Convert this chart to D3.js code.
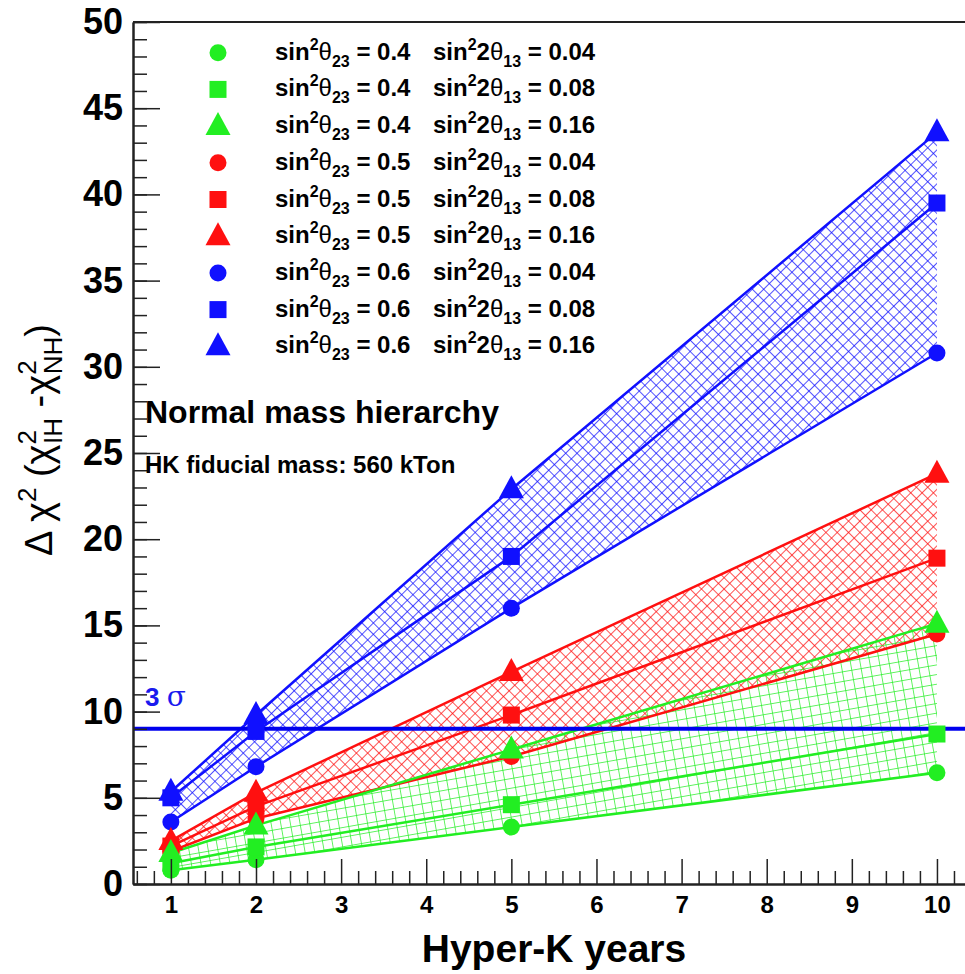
<!DOCTYPE html>
<html>
<head>
<meta charset="utf-8">
<script src="https://cdn.jsdelivr.net/npm/d3@7"></script>
<style>
  body { margin: 0; background: #fff; }
  svg { display: block; font-family: "Liberation Sans", Arial, sans-serif; }
</style>
</head>
<body>
<svg id="chart" width="965" height="974"></svg>
<script>
// années d'exposition
const years = [1, 2, 5, 10];

// sin^2 theta23 par couleur, sin^2 2theta13 par symbole
const th23 = ["0.4", "0.5", "0.6"];
const th13 = ["0.04", "0.08", "0.16"];
const colorsBand = ["#22ee22", "#ff1010", "#1010ff"];
const shapes = ["circle", "square", "triangle"];

// delta chi2 (cercle, carré, triangle)
const green04 = [0.8, 1.4, 3.3, 6.45];
const green08 = [1.2, 2.15, 4.6, 8.7];
const green16 = [1.8, 3.4, 7.8, 15.1];
const red04 = [1.9, 3.8, 7.4, 14.5];
const red08 = [2.2, 4.5, 9.8, 18.9];
const red16 = [2.5, 5.3, 12.3, 23.8];
const blue04 = [3.6, 6.8, 16.0, 30.8];
const blue08 = [5.0, 8.85, 19.0, 39.5];
const blue16 = [5.35, 9.8, 22.9, 43.6];

const series = [
  [green04, green08, green16],
  [red04, red08, red16],
  [blue04, blue08, blue16]
];

const threeSigma = 9;
const xTicks = [1, 2, 3, 4, 5, 6, 7, 8, 9, 10];
const yTicks = [0, 5, 10, 15, 20, 25, 30, 35, 40, 45, 50];

const svg = d3.select("#chart");

const x = d3.scaleLinear().domain([0.555, 10.4]).range([133, 971]);
const y = d3.scaleLinear().domain([0, 50]).range([884, 22]);

// motifs de hachures
const defs = svg.append("defs");
function hatch(id, color, size, angle) {
  const p = defs.append("pattern")
    .attr("id", id)
    .attr("patternUnits", "userSpaceOnUse")
    .attr("width", size).attr("height", size)
    .attr("patternTransform", `rotate(${angle})`);
  p.append("path")
    .attr("d", `M0,0.5 H${size} M0.5,0 V${size}`)
    .attr("stroke", color)
    .attr("stroke-width", 0.9)
    .attr("stroke-opacity", 0.8)
    .attr("fill", "none");
}
hatch("hG", colorsBand[0], 9.5, -10);
hatch("hR", colorsBand[1], 8, 45);
hatch("hB", colorsBand[2], 8, 45);
const hatchIds = ["hG", "hR", "hB"];

const plot = svg.append("g");

// bandes hachurées entre cercle et triangle
const area = d3.area()
  .x((d, i) => x(years[i]))
  .y0(d => y(d[0]))
  .y1(d => y(d[1]));

[2, 1, 0].forEach(g => {
  const pts = years.map((yr, i) => [series[g][0][i], series[g][2][i]]);
  plot.append("path")
    .datum(pts)
    .attr("d", area)
    .attr("fill", `url(#${hatchIds[g]})`);
});

// lignes
const line = d3.line()
  .x((d, i) => x(years[i]))
  .y(d => y(d));

[2, 1, 0].forEach(g => {
  series[g].forEach(s => {
    plot.append("path")
      .datum(s)
      .attr("d", line)
      .attr("fill", "none")
      .attr("stroke", colorsBand[g])
      .attr("stroke-width", 2.5);
  });
});

// ligne 3 sigma
plot.append("line")
  .attr("x1", x.range()[0]).attr("x2", 965)
  .attr("y1", y(threeSigma)).attr("y2", y(threeSigma))
  .attr("stroke", "#0000ee")
  .attr("stroke-width", 4);

const sigmaText = plot.append("text")
  .attr("x", 145).attr("y", 706)
  .attr("fill", "#1a1aee");
sigmaText.append("tspan").attr("font-weight", "bold").attr("font-size", 26).text("3 ");
sigmaText.append("tspan").attr("font-family", "DejaVu Serif").attr("font-size", 28).text("σ");

// symboles
function marker(sel, shape, cx, cy, color) {
  if (shape === "circle") {
    sel.append("circle").attr("cx", cx).attr("cy", cy).attr("r", 8.5).attr("fill", color);
  } else if (shape === "square") {
    sel.append("rect").attr("x", cx - 8.5).attr("y", cy - 8.5)
      .attr("width", 17).attr("height", 17).attr("fill", color);
  } else {
    sel.append("path")
      .attr("d", `M${cx},${cy - 14} L${cx + 12.5},${cy + 9} L${cx - 12.5},${cy + 9} Z`)
      .attr("fill", color);
  }
}

[2, 1, 0].forEach(g => {
  series[g].forEach((s, k) => {
    s.forEach((v, i) => marker(plot, shapes[k], x(years[i]), y(v), colorsBand[g]));
  });
});

// axes
const axisColor = "#222";
const yAxis = svg.append("g")
  .attr("transform", `translate(${x.range()[0]},0)`)
  .call(d3.axisLeft(y).tickValues(yTicks).tickSizeInner(-27).tickSizeOuter(0).tickPadding(10));
svg.append("g")
  .attr("transform", `translate(${x.range()[0]},0)`)
  .call(d3.axisLeft(y).tickValues(d3.range(0, 51, 1)).tickSizeInner(-14).tickSizeOuter(0).tickFormat(""));

const xAxis = svg.append("g")
  .attr("transform", `translate(0,${y(0)})`)
  .call(d3.axisBottom(x).tickValues(xTicks).tickSizeInner(-25).tickSizeOuter(0).tickPadding(12));
const minorX = d3.range(3, 53).map(v => v / 5).filter(v => Math.abs(v - Math.round(v)) > 1e-6);
svg.append("g")
  .attr("transform", `translate(0,${y(0)})`)
  .call(d3.axisBottom(x).tickValues(minorX).tickSizeInner(-13).tickSizeOuter(0).tickFormat(""));

svg.selectAll(".domain").attr("stroke", axisColor).attr("stroke-width", 2);
svg.selectAll(".tick line").attr("stroke", axisColor).attr("stroke-width", 1.5);
yAxis.selectAll("text")
  .attr("font-size", 36).attr("font-weight", "bold").attr("fill", "#000")
  .attr("font-family", "Liberation Sans");
xAxis.selectAll("text")
  .attr("font-size", 24).attr("font-weight", "bold").attr("fill", "#000")
  .attr("font-family", "Liberation Sans");

// cadre supérieur
svg.append("line")
  .attr("x1", x.range()[0]).attr("x2", 965)
  .attr("y1", y(50)).attr("y2", y(50))
  .attr("stroke", axisColor).attr("stroke-width", 2);

// titre de l'axe X
svg.append("text")
  .attr("x", 554).attr("y", 962)
  .attr("text-anchor", "middle")
  .attr("font-size", 39).attr("font-weight", "bold")
  .text("Hyper-K years");

// titre de l'axe Y
const yl = svg.append("text")
  .attr("transform", "translate(52,440) rotate(-90)")
  .attr("text-anchor", "middle")
  .attr("font-size", 38);
yl.append("tspan").text("Δ χ");
yl.append("tspan").attr("font-size", 26).attr("dy", -16).text("2");
yl.append("tspan").attr("dy", 16).text(" (χ");
yl.append("tspan").attr("font-size", 26).attr("dy", -16).text("2");
yl.append("tspan").attr("font-size", 26).attr("dx", -14).attr("dy", 26).text("IH");
yl.append("tspan").attr("dy", -10).text(" -χ");
yl.append("tspan").attr("font-size", 26).attr("dy", -16).text("2");
yl.append("tspan").attr("font-size", 26).attr("dx", -14).attr("dy", 26).text("NH");
yl.append("tspan").attr("dy", -10).text(")");

// textes
svg.append("text")
  .attr("x", 145).attr("y", 423)
  .attr("font-size", 32).attr("font-weight", "bold")
  .text("Normal mass hierarchy");
svg.append("text")
  .attr("x", 145).attr("y", 473)
  .attr("font-size", 24).attr("font-weight", "bold")
  .text("HK fiducial mass: 560 kTon");

// légende
const legend = svg.append("g");
let row = 0;
th23.forEach((t23, g) => {
  th13.forEach((t13, k) => {
    const cy = 52.7 + row * 36.7;
    marker(legend, shapes[k], 218, cy, colorsBand[g]);
    const t1 = legend.append("text").attr("x", 275).attr("y", cy + 7)
      .attr("font-size", 24).attr("font-weight", "bold");
    t1.append("tspan").text("sin");
    t1.append("tspan").attr("font-size", 16).attr("dy", -10).text("2");
    t1.append("tspan").attr("dy", 10).attr("font-weight", "normal").text("θ");
    t1.append("tspan").attr("font-size", 16).attr("dy", 7).text("23");
    t1.append("tspan").attr("dy", -7).text(" = " + t23);
    const t2 = legend.append("text").attr("x", 433).attr("y", cy + 7)
      .attr("font-size", 24).attr("font-weight", "bold");
    t2.append("tspan").text("sin");
    t2.append("tspan").attr("font-size", 16).attr("dy", -10).text("2");
    t2.append("tspan").attr("dy", 10).text("2");
    t2.append("tspan").attr("font-weight", "normal").text("θ");
    t2.append("tspan").attr("font-size", 16).attr("dy", 7).text("13");
    t2.append("tspan").attr("dy", -7).text(" = " + t13);
    row++;
  });
});
</script>
</body>
</html>
